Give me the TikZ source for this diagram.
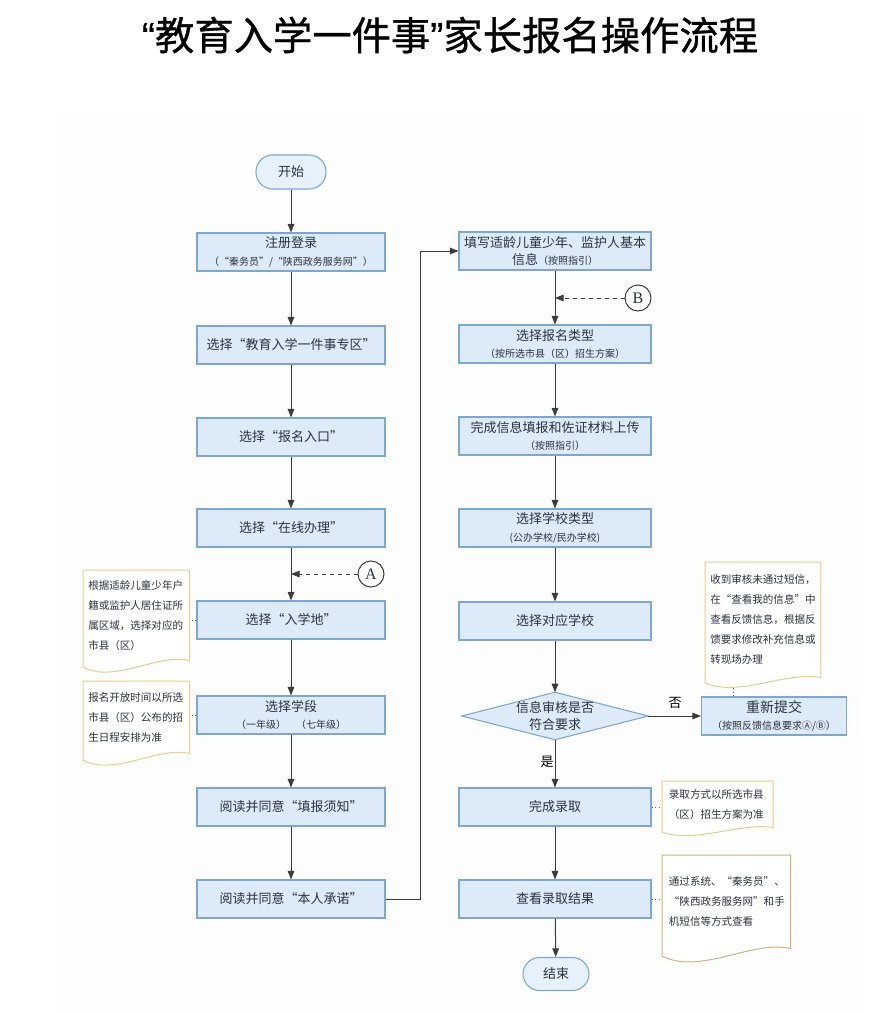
\documentclass[tikz,border=0pt]{standalone}
\usepackage{fontspec}
\setmainfont{Noto Sans CJK SC}
\newfontfamily\serifen{Liberation Serif}
\newfontfamily\titlef[FakeBold=0.8]{Noto Sans CJK SC}
\newfontfamily\titleq[FakeBold=0.8]{Liberation Sans}
\usetikzlibrary{arrows.meta,calc}
\definecolor{boxfill}{HTML}{DDEBF8}
\definecolor{boxline}{HTML}{7EA6CE}
\definecolor{pillfill}{HTML}{E6F1FB}
\definecolor{txt}{HTML}{2A323D}
\definecolor{arr}{HTML}{3C3C3C}
\definecolor{notegold}{HTML}{EBCB8E}
\definecolor{notetan}{HTML}{D6AE80}
\definecolor{bgfaint}{HTML}{FDFDFD}
\pgfdeclarelayer{background}
\pgfsetlayers{background,main}
\newcommand\subf{\fontsize{7.5pt}{10pt}\selectfont}
\newcommand\docnote[4]{%
  \draw[line width=0.75pt, draw=#4, fill=white]
    ($(#1.south west)+(0,0.5*#3)$) -- (#1.north west) -- (#1.north east) -- (#1.south east)
    .. controls +(-0.3*#2,-0.6*#3) and +(0.3*#2,1.3*#3) .. ($(#1.south west)+(0,0.5*#3)$) -- cycle;
}
\tikzset{
  base/.style={font=\fontsize{9.75pt}{13pt}\selectfont, text=txt, align=center, inner sep=1pt},
  box/.style={base, draw=boxline, fill=boxfill, line width=0.8pt, minimum height=38*0.75pt},
  lbox/.style={box, minimum width=188*0.75pt},
  rbox/.style={box, minimum width=192*0.75pt},
  pill/.style={base, draw=boxline, fill=pillfill, line width=0.8pt, rounded corners=12.5pt,
    minimum width=70*0.75pt, minimum height=34*0.75pt},
  decision/.style={base, minimum width=186*0.75pt, minimum height=47*0.75pt},
  flow/.style={draw=arr, line width=0.75pt, -{Triangle[length=6.5pt,width=5pt]}},
  dotlink/.style={draw=arr!80, line width=0.75pt, dotted},
  notetext/.style={font=\fontsize{7.9pt}{15pt}\selectfont, text=txt, align=left,
    inner xsep=3.75pt, inner ysep=0pt, anchor=north west},
  marker/.style={circle, draw=arr, line width=0.75pt, fill=white, minimum size=26*0.75pt,
    inner sep=0pt, font=\serifen\fontsize{12pt}{12pt}\selectfont, text=txt},
  lbl/.style={font=\fontsize{9.75pt}{12pt}\selectfont, text=black, inner sep=0pt},
}
\begin{document}
\begin{tikzpicture}[x=0.75pt,y=-0.75pt]
\useasboundingbox (0,0) rectangle (873,1013);
\begin{pgfonlayer}{background}
  \fill[bgfaint] (63,112) rectangle (862,1013);
\end{pgfonlayer}

% title
\node[font=\fontsize{29.5pt}{33pt}\selectfont, text=black, inner sep=0pt] (title) at (450,35)
  {{\titleq “}\titlef 教育入学一件事{\titleq ”}家长报名操作流程};

% left column
\node[pill] (start) at (291,172) {开始};
\node[lbox] (b1) at (291,252) {注册登录\\{\subf（“秦务员”/“陕西政务服务网”）}};
\node[lbox] (b2) at (291,345) {选择“教育入学一件事专区”};
\node[lbox] (b3) at (291,437) {选择“报名入口”};
\node[lbox] (b4) at (291,528) {选择“在线办理”};
\node[lbox] (b5) at (291,620) {选择“入学地”};
\node[lbox] (b6) at (291,715) {选择学段\\{\subf（一年级）\quad（七年级）}};
\node[lbox] (b7) at (291,807) {阅读并同意“填报须知”};
\node[lbox] (b8) at (291,899) {阅读并同意“本人承诺”};

% right column
\node[rbox] (r1) at (555,251) {填写适龄儿童少年、监护人基本\\信息{\subf（按照指引）}};
\node[rbox] (r2) at (555,344) {选择报名类型\\{\subf（按所选市县（区）招生方案）}};
\node[rbox] (r3) at (555,436) {完成信息填报和佐证材料上传\\{\subf（按照指引）}};
\node[rbox] (r4) at (555,528) {选择学校类型\\{\subf(公办学校/民办学校)}};
\node[rbox] (r5) at (555,621) {选择对应学校};
\node[decision] (dec) at (555,716) {信息审核是否\\符合要求};
\begin{pgfonlayer}{background}
  \draw[draw=boxline, fill=boxfill, line width=0.8pt] (dec.north) -- (dec.east) -- (dec.south) -- (dec.west) -- cycle;
\end{pgfonlayer}
\node[box, minimum width=145*0.75pt] (retry) at (774,716) {\fontsize{10.5pt}{13pt}\selectfont 重新提交\\{\subf（按照反馈信息要求Ⓐ/Ⓑ）}};
\node[rbox] (r6) at (555,807) {完成录取};
\node[rbox] (r7) at (555,899) {查看录取结果};
\node[pill, minimum width=66*0.75pt, minimum height=33*0.75pt] (end) at (556,974) {结束};

% markers
\node[marker] (A) at (371,574) {A};
\node[marker] (B) at (638,298) {B};

% labels
\node[lbl] (no) at (675,703) {否};
\node[lbl] (yes) at (547,762) {是};

% notes
\node[notetext, minimum width=105*0.75pt, minimum height=90*0.75pt, text width=72pt] (n1) at (83,570)
  {根据适龄儿童少年户\\籍或监护人居住证所\\属区域，选择对应的\\市县（区）};
\node[notetext, minimum width=105*0.75pt, minimum height=72*0.75pt, text width=72pt] (n2) at (83,681)
  {报名开放时间以所选\\市县（区）公布的招\\生日程安排为准};
\node[notetext, minimum width=115*0.75pt, minimum height=115*0.75pt, text width=79pt] (n3) at (705,562)
  {收到审核未通过短信，\\在“查看我的信息”中\\查看反馈信息，根据反\\馈要求修改补充信息或\\转现场办理};
\node[notetext, minimum width=108*0.75pt, minimum height=46*0.75pt, text width=73pt, inner xsep=5pt] (n4) at (662,781)
  {录取方式以所选市县\\（区）招生方案为准};
\node[notetext, minimum width=128*0.75pt, minimum height=93*0.75pt, text width=86pt, inner xsep=5pt] (n5) at (662,855)
  {通过系统、“秦务员”、\\“陕西政务服务网”和手\\机短信等方式查看};
\begin{pgfonlayer}{background}
  \docnote{n1}{105}{13}{notegold}
  \docnote{n2}{105}{13}{notegold}
  \docnote{n3}{115}{11}{notegold}
  \docnote{n4}{108}{9}{notegold}
  \docnote{n5}{128}{15}{notetan}
\end{pgfonlayer}
\coordinate (wc) at (733,687);

% connectors
\draw[flow] (start) -- (b1);
\draw[flow] (b1) -- (b2);
\draw[flow] (b2) -- (b3);
\draw[flow] (b3) -- (b4);
\draw[flow] (b4) -- (b5);
\draw[flow] (b5) -- (b6);
\draw[flow] (b6) -- (b7);
\draw[flow] (b7) -- (b8);
\draw[flow] (b8.east) -- ++(35,0) |- (r1.west);
\draw[flow] (r1) -- (r2);
\draw[flow] (r2) -- (r3);
\draw[flow] (r3) -- (r4);
\draw[flow] (r4) -- (r5);
\draw[flow] (r5) -- (dec);
\draw[flow] (dec.east) -- (retry.west);
\draw[flow] (dec.south) -- (r6.north);
\draw[flow] (r6) -- (r7);
\draw[flow] (r7) -- (end);
\draw[flow, dashed] (A.west) -- (A.west -| b4.south);
\draw[flow, dashed] (B.west) -- (B.west -| r1.south);

\draw[dotlink] (b5.west) -- (b5.west -| n1.east);
\draw[dotlink] (b6.west) -- (b6.west -| n2.east);
\draw[dotlink] (r6.east) -- (r6.east -| n4.west);
\draw[dotlink] (r7.east) -- (r7.east -| n5.west);
\draw[dotlink] (retry.north -| wc) -- (wc);
\end{tikzpicture}
\end{document}
